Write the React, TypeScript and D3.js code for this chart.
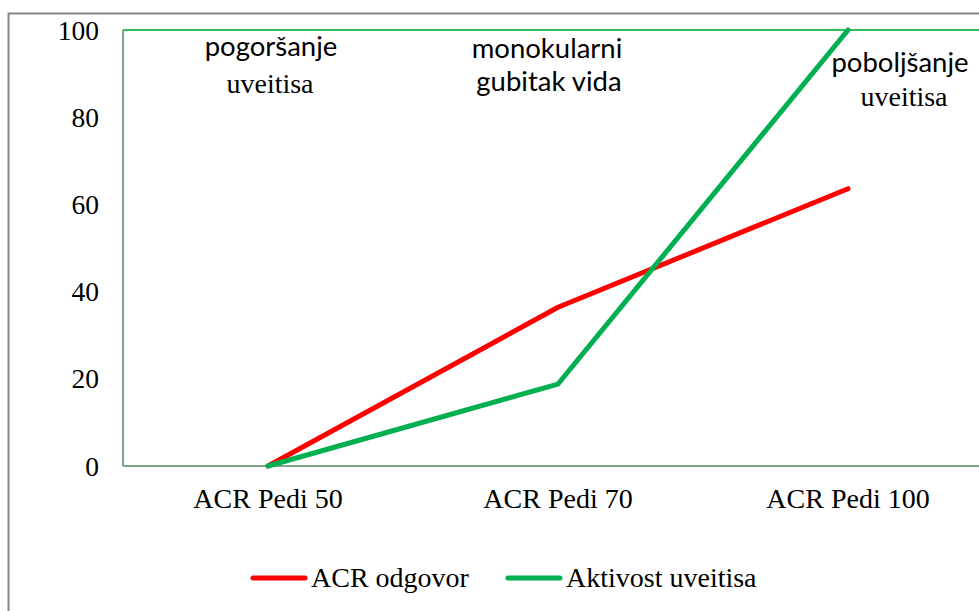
import React, { useEffect, useRef } from "react";
import * as d3 from "d3";

const categories = ["ACR Pedi 50", "ACR Pedi 70", "ACR Pedi 100"];
const acrOdgovor = [0, 36.4, 63.6];
const aktivostUveitisa = [0, 18.8, 100];
const yTicks = [0, 20, 40, 60, 80, 100];
const seriesNames = ["ACR odgovor", "Aktivost uveitisa"];
const seriesColors = ["#ff0000", "#00b050"];
// annotation lines above each category: [first line (sans), second line]
const notes = [
    ["pogoršanje", "uveitisa"],
    ["monokularni", "gubitak vida"],
    ["poboljšanje", "uveitisa"],
];

const width = 979;
const height = 611;
const serif = "'Liberation Serif', 'Times New Roman', serif";
const sans = "Lato, 'Open Sans', sans-serif";

const App = () => {
    const ref = useRef(null);

    useEffect(() => {
        const svg = d3.select(ref.current);
        svg.selectAll("*").remove();

        const plot = { left: 123, top: 30, bottom: 466, right: 993 };

        const x = d3.scaleBand().domain(categories).range([plot.left, plot.right]).padding(0);
        const cx = (c) => x(c) + x.bandwidth() / 2;
        const y = d3.scaleLinear().domain([0, 100]).range([plot.bottom, plot.top]);

        // outer chart frame
        svg.append("rect")
            .attr("x", 8.5).attr("y", 13.5)
            .attr("width", 1100).attr("height", 700)
            .attr("fill", "none")
            .attr("stroke", "#868686")
            .attr("stroke-width", 2);

        // plot area frame: left + bottom gray-green, top green
        svg.append("line")
            .attr("x1", plot.left).attr("x2", plot.left)
            .attr("y1", plot.top).attr("y2", plot.bottom)
            .attr("stroke", "#7fa48c").attr("stroke-width", 2);
        svg.append("line")
            .attr("x1", plot.left).attr("x2", plot.right)
            .attr("y1", plot.bottom).attr("y2", plot.bottom)
            .attr("stroke", "#7fa48c").attr("stroke-width", 2);
        svg.append("line")
            .attr("x1", plot.left).attr("x2", plot.right)
            .attr("y1", y(100)).attr("y2", y(100))
            .attr("stroke", "#2fbf5f").attr("stroke-width", 2);

        // y tick labels
        yTicks.forEach((t) => {
            svg.append("text")
                .attr("x", 99).attr("y", y(t))
                .attr("text-anchor", "end")
                .attr("dy", "0.35em")
                .style("font-family", serif)
                .style("font-size", "27.5px")
                .style("fill", "#000")
                .text(t);
        });

        // x category labels
        categories.forEach((c) => {
            svg.append("text")
                .attr("x", cx(c)).attr("y", 508)
                .attr("text-anchor", "middle")
                .style("font-family", serif)
                .style("font-size", "28px")
                .style("fill", "#000")
                .text(c);
        });

        // annotations
        const notePos = [
            [271, 56, 270, 93, serif],
            [547, 58, 549, 91, sans],
            [900, 72, 904, 106, serif],
        ];
        notes.forEach((n, i) => {
            const [x1, y1, x2, y2, f2] = notePos[i];
            svg.append("text")
                .attr("x", x1).attr("y", y1)
                .attr("text-anchor", "middle")
                .style("font-family", sans)
                .style("font-size", "27.5px")
                .style("fill", "#000")
                .text(n[0]);
            svg.append("text")
                .attr("x", x2).attr("y", y2)
                .attr("text-anchor", "middle")
                .style("font-size", f2 === serif ? "28px" : "27.5px")
                .style("font-family", f2)
                .style("fill", "#000")
                .text(n[1]);
        });

        // series lines
        const line = d3.line()
            .x((d, i) => cx(categories[i]))
            .y((d) => y(d));

        [acrOdgovor, aktivostUveitisa].forEach((vals, i) => {
            svg.append("path")
                .datum(vals)
                .attr("d", line)
                .attr("fill", "none")
                .attr("stroke", seriesColors[i])
                .attr("stroke-width", 5)
                .attr("stroke-linecap", "round")
                .attr("stroke-linejoin", "round");
        });

        // legend
        const legendX = [253, 508];
        seriesNames.forEach((name, i) => {
            svg.append("line")
                .attr("x1", legendX[i]).attr("x2", legendX[i] + 52)
                .attr("y1", 578).attr("y2", 578)
                .attr("stroke", seriesColors[i])
                .attr("stroke-width", 5)
                .attr("stroke-linecap", "round");
            svg.append("text")
                .attr("x", legendX[i] + 58).attr("y", 587)
                .style("font-family", serif)
                .style("font-size", "28px")
                .style("fill", "#000")
                .text(name);
        });
    }, []);

    return (
        <svg
            ref={ref}
            width={width}
            height={height}
            style={{ position: "absolute", left: 0, top: 0, background: "#fff" }}
        />
    );
};

export default App;
